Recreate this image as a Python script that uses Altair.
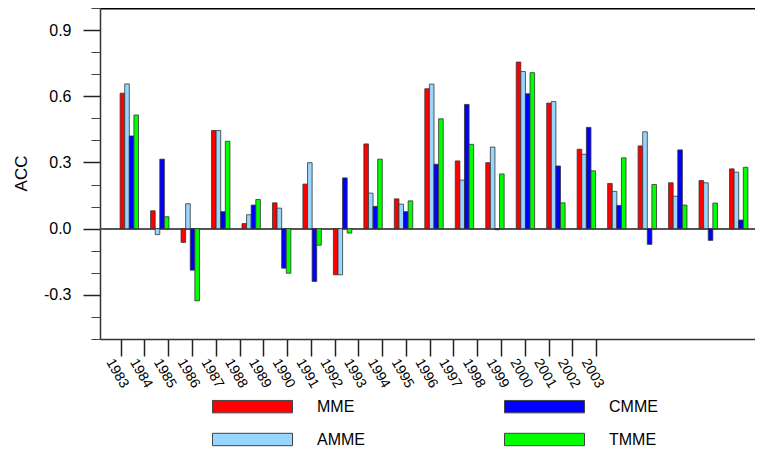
import altair as alt
import pandas as pd

years = list(range(1983, 2004))
series = ["MME", "AMME", "CMME", "TMME"]
colors = ["#FF0000", "#99D6FF", "#0000FF", "#00FF00"]

mme = [0.614, 0.081, -0.062, 0.445, 0.023, 0.117, 0.202, -0.209, 0.384, 0.135,
       0.634, 0.307, 0.299, 0.755, 0.569, 0.360, 0.205, 0.375, 0.208, 0.218, 0.271]
amme = [0.656, -0.027, 0.113, 0.445, 0.063, 0.093, 0.299, -0.209, 0.161, 0.111,
        0.655, 0.220, 0.370, 0.712, 0.576, 0.337, 0.169, 0.439, 0.147, 0.208, 0.256]
cmme = [0.420, 0.315, -0.188, 0.077, 0.107, -0.179, -0.239, 0.230, 0.101, 0.077,
        0.292, 0.563, -0.005, 0.611, 0.284, 0.459, 0.105, -0.071, 0.357, -0.053, 0.039]
tmme = [0.515, 0.054, -0.327, 0.396, 0.132, -0.202, -0.075, -0.020, 0.315, 0.126,
        0.498, 0.382, 0.248, 0.707, 0.117, 0.262, 0.321, 0.200, 0.107, 0.116, 0.278]

major_y = [-0.3, 0.0, 0.3, 0.6, 0.9]
minor_y = [-0.5, -0.4, -0.2, -0.1, 0.1, 0.2, 0.4, 0.5, 0.7, 0.8, 1.0]

rows = []
for k, (name, vals) in enumerate(zip(series, [mme, amme, cmme, tmme])):
    for y, v in zip(years, vals):
        rows.append({"year": y, "series": name, "k": k, "value": v})
df = pd.DataFrame(rows)
tick_df = pd.DataFrame({"year": years, "zero": [0.0] * len(years)})

FONT = "Liberation Sans"
BW = 0.151  # bar width in year units
PLOT_W = 655
ydom = alt.Scale(domain=[-0.5, 1.0], nice=False, zero=False)

bars = alt.Chart(df).transform_calculate(
    x0=f"datum.year + (datum.k - 2) * {BW}",
    x1=f"datum.year + (datum.k - 1) * {BW}",
).mark_bar(stroke="#333333", strokeWidth=0.8).encode(
    x=alt.X("x0:Q", scale=alt.Scale(domain=[1982.038, 1982.038 + PLOT_W / 30.47], nice=False, zero=False),
            axis=alt.Axis(orient="top", labels=False, ticks=False, grid=False, title=None,
                          domainColor="black", domainWidth=2)),
    x2="x1:Q",
    y=alt.Y("value:Q", scale=ydom,
            axis=alt.Axis(orient="left", values=major_y, grid=False,
                          labelExpr="(datum.value < 0 ? '-' : '') + format(abs(datum.value), '.1f')",
                          tickSize=17, tickWidth=1.5, tickColor="#222222",
                          labelFont=FONT, labelFontSize=16, labelColor="black", labelPadding=12,
                          domainColor="#333333", domainWidth=1.5,
                          title="ACC", titleFont=FONT, titleFontSize=17, titleFontWeight="normal",
                          titleColor="black", titleAngle=270, titleX=-79, titleY=165,
                          titleAlign="center", titleBaseline="middle")),
    y2=alt.datum(0),
    color=alt.Color("series:N", scale=alt.Scale(domain=series, range=colors),
                    legend=alt.Legend(orient="none", legendX=142, legendY=388, columns=2,
                                      direction="vertical", title=None, padding=0,
                                      symbolType="M-4,-0.62H4V0.62H-4Z", symbolSize=400,
                                      symbolStrokeColor="#444444", symbolStrokeWidth=1,
                                      symbolOpacity=1,
                                      labelFont=FONT, labelFontSize=16, labelColor="black",
                                      labelOffset=54, columnPadding=137, rowPadding=14)),
)

zero_line = alt.Chart(tick_df).mark_rule(color="#555555", strokeWidth=1).encode(
    y=alt.YDatum(0, scale=ydom, axis=None)
)

ticks = alt.Chart(tick_df).mark_point(opacity=0).encode(
    x=alt.X("year:Q", scale=alt.Scale(domain=[1982.129, 1982.129 + PLOT_W / 23.77], nice=False, zero=False),
            axis=alt.Axis(orient="bottom", values=years, format="d", grid=False, title=None,
                          labelAngle=60, labelAlign="center", labelBaseline="middle",
                          labelPadding=17, labelOffset=-4,
                          labelOverlap=False, labelFlush=False,
                          labelFont=FONT, labelFontSize=14, labelColor="black",
                          tickSize=17, tickWidth=1.5, tickColor="#222222",
                          domainColor="#333333", domainWidth=1.5)),
    y=alt.Y("zero:Q", scale=ydom,
            axis=alt.Axis(orient="left", values=minor_y, labels=False, domain=False, grid=False,
                          title=None, tickSize=9, tickWidth=1, tickColor="#444444")),
)

chart = alt.layer(zero_line, bars, ticks).resolve_scale(x="independent", y="independent").properties(
    width=PLOT_W, height=331,
    autosize=alt.AutoSizeParams(type="none"),
    padding={"left": 92, "top": 0, "right": 0, "bottom": 109},
).configure_view(strokeWidth=0)

chart.save("out.html", embed_options={"renderer": "svg", "actions": False})
